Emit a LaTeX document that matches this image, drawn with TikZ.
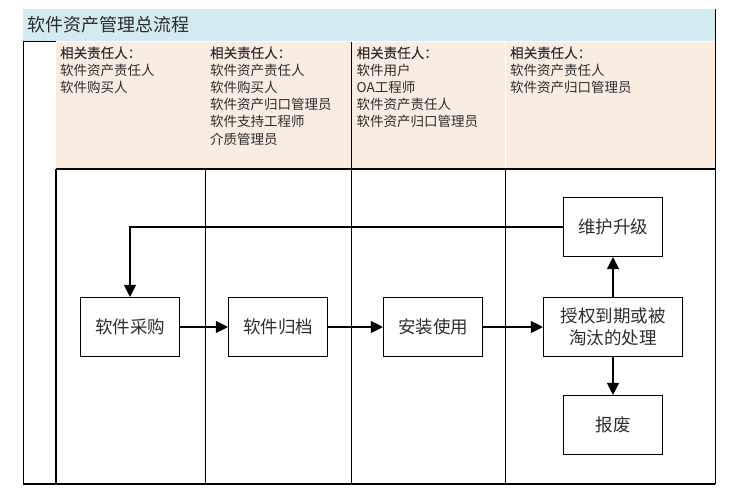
\documentclass[tikz,border=0pt]{standalone}
\usepackage{fontspec}
\newfontfamily\cjk{Noto Sans CJK SC}
\newfontfamily\cjkb[FakeBold=0.3]{Noto Sans CJK SC}
\usetikzlibrary{arrows.meta}
\definecolor{titleblue}{RGB}{210,234,240}
\definecolor{headpeach}{RGB}{251,236,226}
\definecolor{txtgray}{RGB}{45,45,45}
\newcommand{\resphead}{{\cjkb 相关责任人：}}
\begin{document}
\begin{tikzpicture}[x=1pt,y=-1pt,
  proc/.style={draw=black, line width=1.1pt, minimum width=99pt, minimum height=59pt, inner sep=0pt,
    font=\cjk\fontsize{17.5}{22}\selectfont, align=center, text=txtgray},
  flow/.style={line width=1.1pt, -{Triangle[length=12pt,width=12pt]}},
  lane/.style={line width=1.1pt},
  resp/.style={anchor=north west, inner sep=0pt, align=left, font=\cjk\fontsize{13.5}{17.2}\selectfont, text=txtgray},
  ttl/.style={anchor=west, inner sep=0pt, font=\cjk\fontsize{18}{18}\selectfont, text=txtgray}]
\useasboundingbox (0,0) rectangle (733,493);
% bands
\fill[titleblue] (22.5,9) rectangle (715,40.7);
\fill[headpeach] (56,41.5) rectangle (715,169);
\draw[white, line width=0.8pt] (505.3,41.5) -- (505.3,169);
\node[ttl] (title) at (27,24.5) {软件资产管理总流程};
% lane lines
\draw[lane] (23.3,41.7) -- (56,41.7);
\draw[lane] (23.3,41.7) -- (23.3,484) -- (715.3,484);
\draw[lane] (715.3,9) -- (715.3,484);
\draw[lane] (56,169) -- (715.3,169);
\draw[lane] (56,169) -- (56,484);
\draw[lane] (205.3,169) -- (205.3,484);
\draw[lane] (351.7,41.5) -- (351.7,484);
\draw[lane] (505.3,169) -- (505.3,484);
% responsibilities
\node[resp] (r1) at (60,46.5) {\resphead\\软件资产责任人\\软件购买人};
\node[resp] (r2) at (210,46.5) {\resphead\\软件资产责任人\\软件购买人\\软件资产归口管理员\\软件支持工程师\\介质管理员};
\node[resp] (r3) at (356.5,46.5) {\resphead\\软件用户\\OA工程师\\软件资产责任人\\软件资产归口管理员};
\node[resp] (r4) at (510,46.5) {\resphead\\软件资产责任人\\软件资产归口管理员};
% process boxes
\node[proc] (buy) at (130,327) {软件采购};
\node[proc] (arch) at (278,327) {软件归档};
\node[proc] (inst) at (433,327) {安装使用};
\node[proc, minimum width=139pt] (exp) at (613,327) {授权到期或被\\淘汰的处理};
\node[proc] (maint) at (613,227) {维护升级};
\node[proc] (scrap) at (613,425) {报废};
% connectors
\draw[flow] (buy) -- (arch);
\draw[flow] (arch) -- (inst);
\draw[flow] (inst) -- (exp);
\draw[flow] (exp) -- (maint);
\draw[flow] (exp) -- (scrap);
\draw[flow] (maint.west) -| (buy.north);
\end{tikzpicture}
\end{document}
